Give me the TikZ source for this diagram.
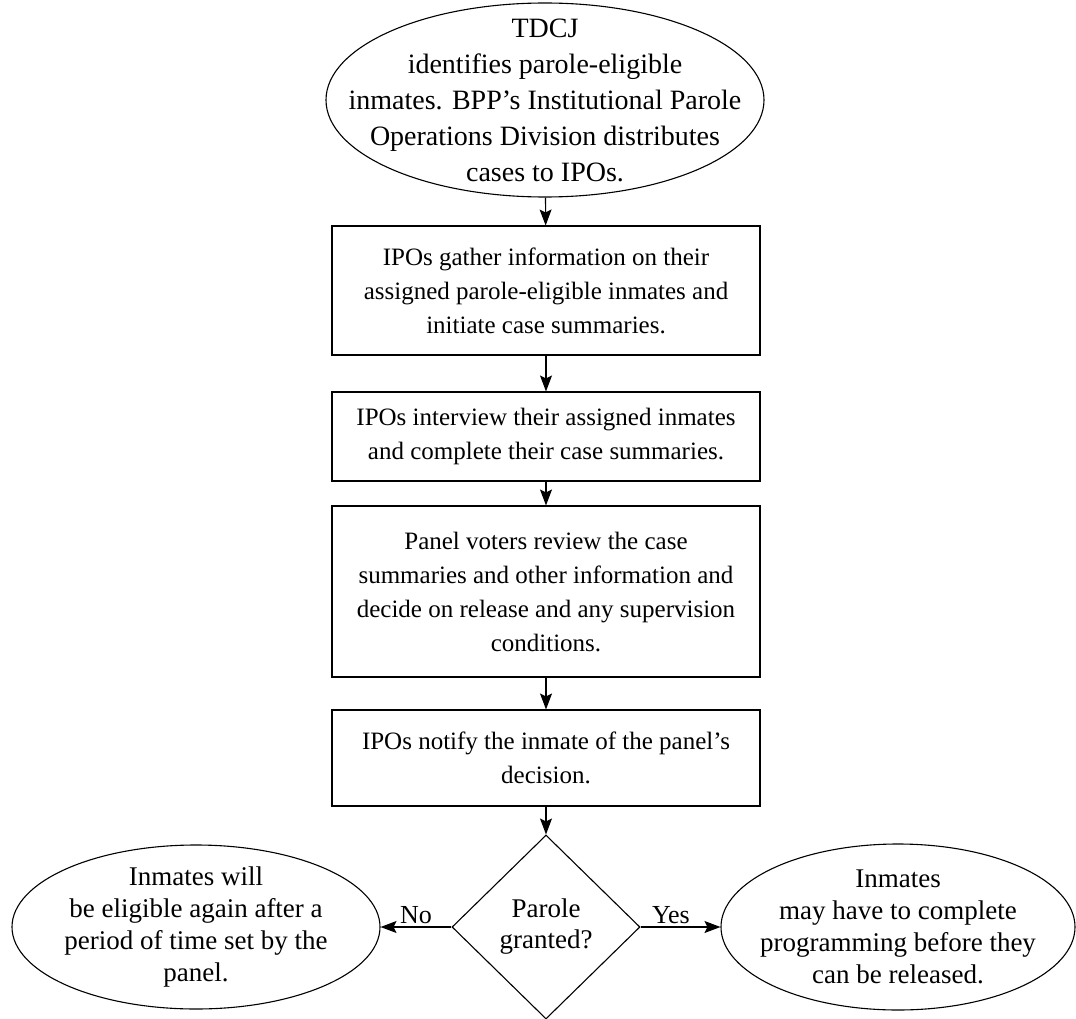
\documentclass[tikz,border=0pt]{standalone}
\usepackage{fontspec}
\setmainfont{Liberation Serif}
\usetikzlibrary{positioning}
\usetikzlibrary{shapes.geometric}
\usetikzlibrary{arrows.meta}

\begin{document}
\begin{tikzpicture}[x=1pt,y=-1pt,line width=1.1pt,
    font=\fontsize{25}{34}\selectfont,
    oval/.style={draw,ellipse,inner sep=0pt},
    words/.style={align=center,inner sep=0pt},
    stepbox/.style={draw,rectangle,minimum width=428pt,inner sep=0pt,align=center},
    choice/.style={draw,diamond,inner sep=0pt,align=center,minimum width=188pt,minimum height=184pt},
    flow/.style={-{Stealth[length=16pt,width=12pt,inset=3pt]}}]
        \useasboundingbox (0,0) rectangle (1076,1019);

        % start
        \node[oval,minimum width=438pt,minimum height=194pt] (tdcj) at (545,100) {};
        \node[words,font=\fontsize{28}{36}\selectfont] (tdcjtext) at (tdcj) {TDCJ\\identifies parole-eligible\\inmates. BPP's Institutional Parole\\Operations Division distributes\\cases to IPOs.};

        % steps
        \node[stepbox,minimum height=129pt] (gather) at (546,290.5) {IPOs gather information on their\\assigned parole-eligible inmates and\\initiate case summaries.};
        \node[stepbox,minimum height=89pt] (interview) at (546,436.5) {IPOs interview their assigned inmates\\and complete their case summaries.};
        \node[stepbox,minimum height=171pt] (review) at (546,591.5) {Panel voters review the case\\summaries and other information and\\decide on release and any supervision\\conditions.};
        \node[stepbox,minimum height=96pt] (notify) at (546,758) {IPOs notify the inmate of the panel's\\decision.};

        % decision
        \node[choice,font=\fontsize{27}{31}\selectfont] (granted) at (546,927) {Parole\\granted?};

        % outcomes
        \node[oval,minimum width=368pt,minimum height=164pt] (again) at (196,927) {};
        \node[words,font=\fontsize{27}{32}\selectfont] (againtext) at (again) {Inmates will\\be eligible again after a\\period of time set by the\\panel.};
        \node[oval,minimum width=354pt,minimum height=166pt] (program) at (898,927) {};
        \node[words,font=\fontsize{27}{32}\selectfont] (programtext) at (program) {Inmates\\may have to complete\\programming before they\\can be released.};

        \draw[flow] (tdcj) -- (gather);
        \draw[flow] (gather) -- (interview);
        \draw[flow] (interview) -- (review);
        \draw[flow] (review) -- (notify);
        \draw[flow] (notify) -- (granted);
        \draw[flow] (granted) -- node[above,inner sep=3pt,font=\fontsize{26}{30}\selectfont] (no) {No} (again);
        \draw[flow] (granted) -- node[above,inner sep=3pt,pos=.38,font=\fontsize{26}{30}\selectfont] (yes) {Yes} (program);
      \end{tikzpicture}
\end{document}
